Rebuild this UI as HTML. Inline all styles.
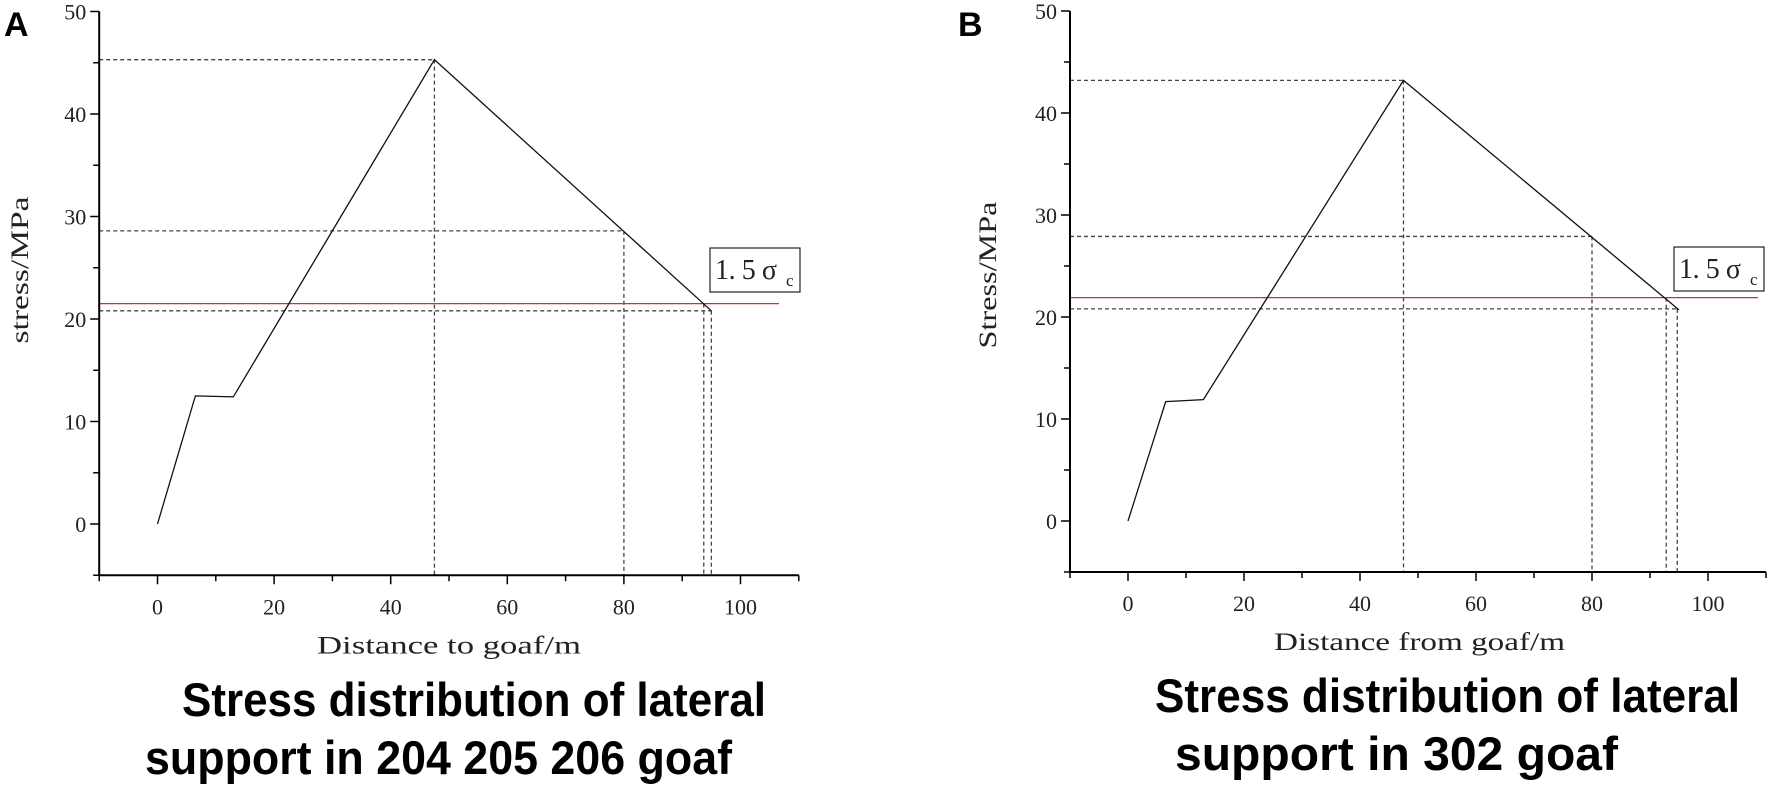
<!DOCTYPE html>
<html><head><meta charset="utf-8"><style>
body{margin:0;background:#fff}
svg{display:block}
.tick{font-family:"Liberation Serif",serif;font-size:22px;fill:#222}
.atitle{font-family:"Liberation Serif",serif;font-size:25px;fill:#222}
.cap{font-family:"Liberation Sans",sans-serif;font-weight:bold;font-size:47px;fill:#000}
</style></head><body>
<svg id="svg" width="1772" height="788" viewBox="0 0 1772 788">
<text x="4" y="36" font-family="Liberation Sans,sans-serif" font-weight="bold" font-size="34">A</text>
<text x="958" y="36" font-family="Liberation Sans,sans-serif" font-weight="bold" font-size="34">B</text>
<text class="cap" x="182" y="716" textLength="584" lengthAdjust="spacingAndGlyphs">Stress distribution of lateral</text>
<text class="cap" x="145" y="774" textLength="587" lengthAdjust="spacingAndGlyphs">support in 204 205 206 goaf</text>
<text class="cap" x="1155" y="712" textLength="585" lengthAdjust="spacingAndGlyphs">Stress distribution of lateral</text>
<text class="cap" x="1175" y="770" textLength="443" lengthAdjust="spacingAndGlyphs">support in 302 goaf</text>
</svg>
<script>
// Chart A data
const xA = [0, 6.5, 13, 47.5, 95];
const yA = [0, 12.5, 12.4, 45.3, 20.8];
const refA = 21.5;
const dashHA = [[45.3, 47.5], [28.6, 80], [20.8, 95]];
const dashVA = [[47.5, 45.3], [80, 28.6], [93.7, 21.5], [95, 20.8]];
// Chart B data
const xB = [0, 6.5, 13, 47.5, 95];
const yB = [0, 11.7, 11.9, 43.2, 20.7];
const refB = 21.9;
const dashHB = [[43.2, 47.5], [27.9, 80], [20.8, 95]];
const dashVB = [[47.5, 43.2], [80, 27.9], [92.8, 21.9], [94.7, 20.8]];
const xTicks = [0, 20, 40, 60, 80, 100];
const yTicks = [0, 10, 20, 30, 40, 50];

const NS = 'http://www.w3.org/2000/svg';
const svg = document.getElementById('svg');
function mk(tag, attrs, parent) {
  const e = document.createElementNS(NS, tag);
  for (const k in attrs) e.setAttribute(k, attrs[k]);
  (parent || svg).appendChild(e);
  return e;
}
function chart(cfg) {
  const g = mk('g', {});
  
  
  const sx = v => cfg.x0 + (v) * cfg.kx;
  const sy = v => cfg.y0 - v * cfg.ky;
  const left = sx(-10), right = sx(110), bottom = sy(-5), top = sy(50);
  cfg.dh.forEach(d => {
    const l = mk('line', {x1: left, x2: sx(d[1]), y1: sy(d[0]), y2: sy(d[0]), stroke: '#444', 'stroke-width': 1.3, 'stroke-dasharray': '4,3'}, g);
    
    
  });
  cfg.dv.forEach(d => {
    const l = mk('line', {x1: sx(d[0]), x2: sx(d[0]), y1: sy(d[1]), y2: bottom, stroke: '#444', 'stroke-width': 1.3, 'stroke-dasharray': '4,3'}, g);
    
    
  });
  const r = mk('line', {x1: left, x2: cfg.redEnd, y1: sy(cfg.ref), y2: sy(cfg.ref), stroke: '#c0392b', 'stroke-width': 1.3}, g);
  
  
  const pts = cfg.xs.map((v, i) => sx(v) + ',' + sy(cfg.ys[i])).join(' ');
  const p = mk('polyline', {points: pts, fill: 'none', stroke: '#111', 'stroke-width': 1.3}, g);
  
  
  const ya = mk('line', {x1: left, x2: left, y1: top, y2: bottom, stroke: '#000', 'stroke-width': 2}, g);
  
  
  const xa = mk('line', {x1: left, x2: right, y1: bottom, y2: bottom, stroke: '#000', 'stroke-width': 2}, g);
  
  
  for (let v = -10; v <= 110; v += 10) {
    const major = v % 20 === 0;
    mk('line', {x1: sx(v), x2: sx(v), y1: bottom, y2: bottom + (major ? 9 : 6), stroke: '#000', 'stroke-width': 1.5}, g);
  }
  for (let v = -5; v <= 50; v += 5) {
    const major = v % 10 === 0;
    mk('line', {x1: left, x2: left - (major ? 9 : 6), y1: sy(v), y2: sy(v), stroke: '#000', 'stroke-width': 1.5}, g);
  }
  xTicks.forEach(v => {
    const t = mk('text', {x: sx(v), y: bottom + 39, 'text-anchor': 'middle', class: 'tick'}, g);
    t.textContent = v;
    
    
  });
  yTicks.forEach(v => {
    const t = mk('text', {x: left - 13, y: sy(v) + 8, 'text-anchor': 'end', class: 'tick'}, g);
    t.textContent = v;
    
    
  });
  const xt = mk('text', {x: cfg.xtX, y: bottom + 78, class: 'atitle', textLength: cfg.xtLen, lengthAdjust: 'spacingAndGlyphs'}, g);
  xt.textContent = cfg.xTitle;
  
  
  const yt = mk('text', {x: 0, y: 0, class: 'atitle', 'text-anchor': 'middle', transform: 'translate(' + cfg.ytX + ',' + cfg.ytY + ') rotate(-90)', textLength: 147, lengthAdjust: 'spacingAndGlyphs'}, g);
  yt.textContent = cfg.yTitle;
  
  
  const bx = mk('rect', {x: cfg.box[0], y: cfg.box[1], width: 90, height: 44, fill: '#fff', stroke: '#222', 'stroke-width': 1.2}, g);
  
  
  const bt = mk('text', {x: cfg.box[0] + 5, y: cfg.box[1] + 31, 'font-family': 'Liberation Serif,serif', 'font-size': 28, fill: '#222', textLength: 62, lengthAdjust: 'spacing'}, g);
  bt.textContent = '1. 5 σ';
  
  
  const bs = mk('text', {x: cfg.box[0] + 76, y: cfg.box[1] + 38, 'font-family': 'Liberation Serif,serif', 'font-size': 17, fill: '#222'}, g);
  bs.textContent = 'c';
}
chart({name: 'chart-a', x0: 157.5, kx: 5.83, y0: 524, ky: 10.25, xs: xA, ys: yA, ref: refA, dh: dashHA, dv: dashVA,
  redEnd: 779, xTitle: 'Distance to goaf/m', xtX: 317, xtLen: 264, yTitle: 'stress/MPa', ytX: 28, ytY: 270, box: [710, 248]});
chart({name: 'chart-b', x0: 1128, kx: 5.8, y0: 521, ky: 10.2, xs: xB, ys: yB, ref: refB, dh: dashHB, dv: dashVB,
  redEnd: 1758, xTitle: 'Distance from goaf/m', xtX: 1274, xtLen: 291, yTitle: 'Stress/MPa', ytX: 996, ytY: 275, box: [1674, 247]});
</script>
</body></html>
